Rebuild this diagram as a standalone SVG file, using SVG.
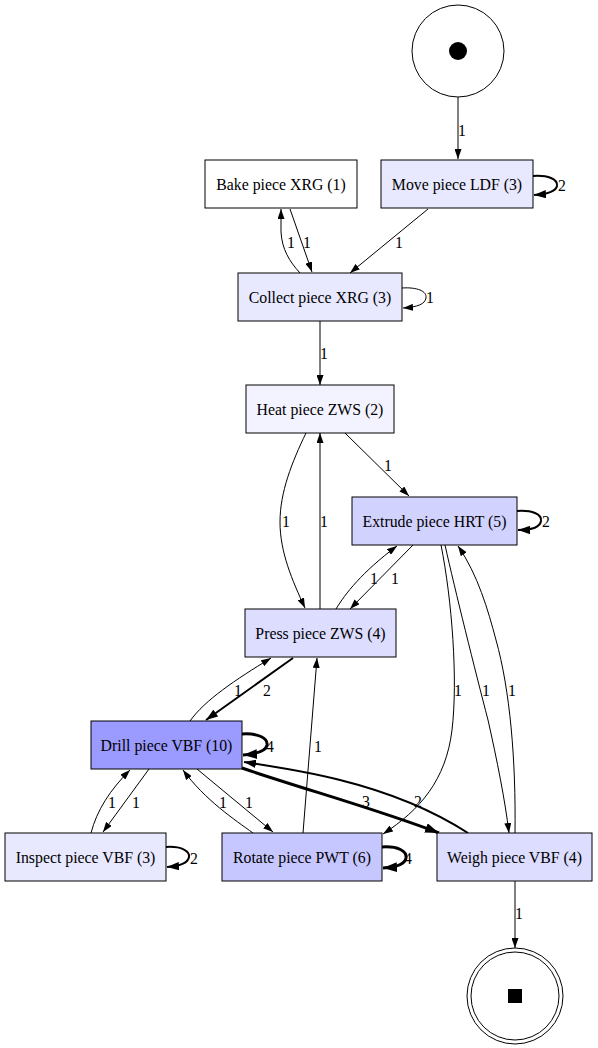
<svg xmlns="http://www.w3.org/2000/svg" width="598" height="1048" viewBox="0 0 598 1048">
<style>
.n rect{stroke:#000;stroke-width:1}
.e path{fill:none;stroke:#000;stroke-width:1}
.e .w2{stroke-width:2}
.e .w3{stroke-width:3}
</style>
<defs>
<marker id="a" viewBox="0 0 10 7" refX="10" refY="3.5" markerWidth="10" markerHeight="7" markerUnits="userSpaceOnUse" orient="auto"><path d="M0,0 L10,3.5 L0,7 z" fill="#000"/></marker>
<marker id="a2" viewBox="0 0 10 7" refX="10" refY="3.5" markerWidth="12" markerHeight="8.4" markerUnits="userSpaceOnUse" orient="auto"><path d="M0,0 L10,3.5 L0,7 z" fill="#000"/></marker>
<marker id="a3" viewBox="0 0 10 7" refX="10" refY="3.5" markerWidth="14" markerHeight="10" markerUnits="userSpaceOnUse" orient="auto"><path d="M0,0 L10,3.5 L0,7 z" fill="#000"/></marker>
</defs>
<rect width="598" height="1048" fill="#fff"/>
<g font-family="Liberation Serif, Times New Roman, serif" font-size="15.8" text-anchor="middle" fill="#000">
<g id="edges" class="e">
<path d="M458,97 L458,159" marker-end="url(#a)"/>
<path class="w2" d="M533,176 C548,175 558,179 557,186 C556,191 549,194 534,195" marker-end="url(#a2)"/>
<path d="M428,209 L350,273" marker-end="url(#a)"/>
<path d="M290,209 L312,272" marker-end="url(#a)"/>
<path d="M300,273 C289,261 282,249 281,232 L281,209" marker-end="url(#a)"/>
<path d="M402,288 C417,287 427,291 426,298 C425,304 418,307 403,308" marker-end="url(#a)"/>
<path d="M320,321 L320,385" marker-end="url(#a)"/>
<path d="M345,433 L409,496" marker-end="url(#a)"/>
<path d="M306,433 C292,462 280,492 280,522 C280,552 292,580 305,608" marker-end="url(#a)"/>
<path d="M320,609 L320,433" marker-end="url(#a)"/>
<path class="w2" d="M517,511 C532,510 542,514 541,521 C540,527 533,530 518,530" marker-end="url(#a2)"/>
<path d="M336,609 C345,594 362,572 397,546" marker-end="url(#a)"/>
<path d="M413,545 L350,609" marker-end="url(#a)"/>
<path d="M441,545 C452,600 458,680 452,730 C446,780 420,810 383,834" marker-end="url(#a)"/>
<path d="M445,545 C455,590 475,670 488,720 C497,760 505,800 509,833" marker-end="url(#a)"/>
<path d="M515,833 C516,760 510,690 496,640 C488,610 478,575 458,546" marker-end="url(#a)"/>
<path class="w2" d="M293,658 L206,720" marker-end="url(#a2)"/>
<path d="M190,721 C205,700 235,680 271,658" marker-end="url(#a)"/>
<path class="w3" d="M242,734 C258,733 268,738 267,745 C266,751 258,754 243,755" marker-end="url(#a3)"/>
<path d="M149,769 L103,832" marker-end="url(#a)"/>
<path d="M91,833 C97,810 110,790 130,770" marker-end="url(#a)"/>
<path class="w2" d="M166,847 C181,846 190,851 189,857 C188,863 181,866 167,867" marker-end="url(#a2)"/>
<path d="M197,769 L273,832" marker-end="url(#a)"/>
<path d="M253,833 C235,820 205,800 183,770" marker-end="url(#a)"/>
<path d="M303,833 L317,658" marker-end="url(#a)"/>
<path class="w3" d="M382,847 C398,846 407,851 406,858 C405,864 398,867 383,868" marker-end="url(#a3)"/>
<path class="w3" d="M242,768 C300,788 380,810 439,833" marker-end="url(#a3)"/>
<path class="w2" d="M468,833 C440,815 400,795 340,780 C300,770 270,766 244,762" marker-end="url(#a2)"/>
<path d="M515,881 L515,948" marker-end="url(#a)"/>
<text x="462" y="136">1</text>
<text x="562" y="191">2</text>
<text x="399" y="248">1</text>
<text x="307" y="248">1</text>
<text x="291" y="248">1</text>
<text x="430" y="303">1</text>
<text x="324" y="359">1</text>
<text x="388" y="471">1</text>
<text x="286" y="527">1</text>
<text x="324" y="527">1</text>
<text x="546" y="527">2</text>
<text x="374" y="584">1</text>
<text x="395" y="584">1</text>
<text x="458" y="696">1</text>
<text x="486" y="696">1</text>
<text x="512" y="696">1</text>
<text x="267" y="696">2</text>
<text x="238" y="696">1</text>
<text x="270" y="752">4</text>
<text x="318" y="752">1</text>
<text x="136" y="808">1</text>
<text x="112" y="808">1</text>
<text x="249" y="808">1</text>
<text x="223" y="808">1</text>
<text x="366" y="807">3</text>
<text x="418" y="807">2</text>
<text x="194" y="864">2</text>
<text x="408" y="864">4</text>
<text x="519" y="919">1</text>
</g>
<g id="start"><circle cx="458" cy="51" r="46" fill="#fff" stroke="#000"/><circle cx="458" cy="51" r="9" fill="#000"/></g>
<g id="end"><circle cx="515" cy="996" r="48" fill="#fff" stroke="#000"/><circle cx="515" cy="996" r="44" fill="none" stroke="#000"/><rect x="508" y="989" width="14" height="14" fill="#000"/></g>
<g id="bake" class="n"><rect x="205" y="160" width="152" height="48" fill="#ffffff"/><text x="281" y="190">Bake piece XRG (1)</text></g>
<g id="move" class="n"><rect x="381" y="160" width="152" height="48" fill="#e8e8ff"/><text x="457" y="190">Move piece LDF (3)</text></g>
<g id="collect" class="n"><rect x="238" y="273" width="164" height="48" fill="#e8e8ff"/><text x="320" y="303">Collect piece XRG (3)</text></g>
<g id="heat" class="n"><rect x="246" y="385" width="148" height="48" fill="#f3f3ff"/><text x="320" y="415">Heat piece ZWS (2)</text></g>
<g id="extrude" class="n"><rect x="352" y="497" width="165" height="48" fill="#d2d2ff"/><text x="434.5" y="527">Extrude piece HRT (5)</text></g>
<g id="press" class="n"><rect x="245" y="609" width="151" height="48" fill="#ddddff"/><text x="320.5" y="639">Press piece ZWS (4)</text></g>
<g id="drill" class="n"><rect x="91" y="721" width="151" height="48" fill="#9b9bff"/><text x="166.5" y="751">Drill piece VBF (10)</text></g>
<g id="inspect" class="n"><rect x="5" y="833" width="161" height="48" fill="#e8e8ff"/><text x="85.5" y="863">Inspect piece VBF (3)</text></g>
<g id="rotate" class="n"><rect x="222" y="833" width="160" height="48" fill="#c7c7ff"/><text x="302" y="863">Rotate piece PWT (6)</text></g>
<g id="weigh" class="n"><rect x="437" y="833" width="155" height="48" fill="#ddddff"/><text x="514.5" y="863">Weigh piece VBF (4)</text></g>
</g>
</svg>
